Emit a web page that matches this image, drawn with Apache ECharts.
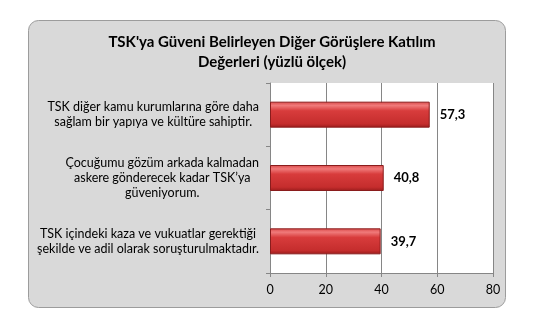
<!DOCTYPE html>
<html>
<head>
<meta charset="utf-8">
<script src="https://cdn.jsdelivr.net/npm/echarts@6/dist/echarts.min.js"></script>
<style>html,body{margin:0;padding:0;background:#fff}#c{width:536px;height:317px}</style>
</head>
<body>
<div id="c"></div>
<script>
var titleLines = ["TSK'ya Güveni Belirleyen Diğer Görüşlere Katılım", "Değerleri (yüzlü ölçek)"];
var categories = [
  "TSK diğer kamu kurumlarına göre daha\nsağlam bir yapıya ve kültüre sahiptir.",
  "Çocuğumu gözüm arkada kalmadan\naskere gönderecek kadar TSK’ya\ngüveniyorum.",
  "TSK içindeki kaza ve vukuatlar gerektiği\nşekilde ve adil olarak soruşturulmaktadır."
];
var values = [57.3, 40.8, 39.7];
var xMin = 0, xMax = 80, xInterval = 20;

var FONT = 'Lato';
var chart = echarts.init(document.getElementById('c'), null, {renderer: 'canvas'});
chart.setOption({
  backgroundColor: '#ffffff',
  animation: false,
  graphic: [{
    type: 'rect',
    shape: {x: 28.5, y: 20.5, width: 477, height: 287, r: 10},
    style: {fill: '#d9d9d9', stroke: '#9c9c9c', lineWidth: 1},
    z: -10
  }],
  title: {
    text: titleLines.join('\n'),
    left: 272, top: 32, textAlign: 'center', padding: 0,
    textStyle: {fontFamily: FONT, fontSize: 15, fontWeight: 'bold', color: '#000', lineHeight: 20}
  },
  grid: {
    left: 270, right: 43, top: 83, bottom: 44,
    show: true, backgroundColor: '#ffffff', borderWidth: 0
  },
  xAxis: {
    type: 'value', min: xMin, max: xMax, interval: xInterval,
    axisLine: {show: true, lineStyle: {color: '#868686'}},
    axisTick: {show: true, length: 4, lineStyle: {color: '#868686'}},
    splitLine: {show: true, lineStyle: {color: '#868686', width: 1}},
    axisLabel: {fontFamily: FONT, fontSize: 12.5, color: '#000', margin: 10}
  },
  yAxis: {
    type: 'category', data: categories, inverse: true,
    axisLine: {show: true, lineStyle: {color: '#868686'}},
    axisTick: {show: true, length: 4, lineStyle: {color: '#868686'}},
    axisLabel: {
      align: 'right', margin: 11, color: '#000',
      fontFamily: FONT, fontSize: 12.5, lineHeight: 15,
      formatter: function (v) {
        return v.split('\n').map(function (s) { return '{c|' + s + '}'; }).join('\n');
      },
      rich: {c: {align: 'center', fontFamily: FONT, fontSize: 12.5, lineHeight: 15, color: '#000'}}
    }
  },
  series: [{
    type: 'bar', data: values, barWidth: 26,
    itemStyle: {
      color: new echarts.graphic.LinearGradient(0, 0, 0, 1, [
        {offset: 0, color: '#d94848'},
        {offset: 0.15, color: '#f07a7a'},
        {offset: 0.35, color: '#d83c3c'},
        {offset: 0.85, color: '#c52d2d'},
        {offset: 1, color: '#9a1c1c'}
      ]),
      borderColor: '#8a1c1c', borderWidth: 1
    },
    label: {
      show: true, position: 'right', distance: 10,
      fontFamily: FONT, fontSize: 13, fontWeight: 'bold', color: '#000',
      formatter: function (p) { return String(p.value).replace('.', ','); }
    }
  }]
});
</script>
</body>
</html>
